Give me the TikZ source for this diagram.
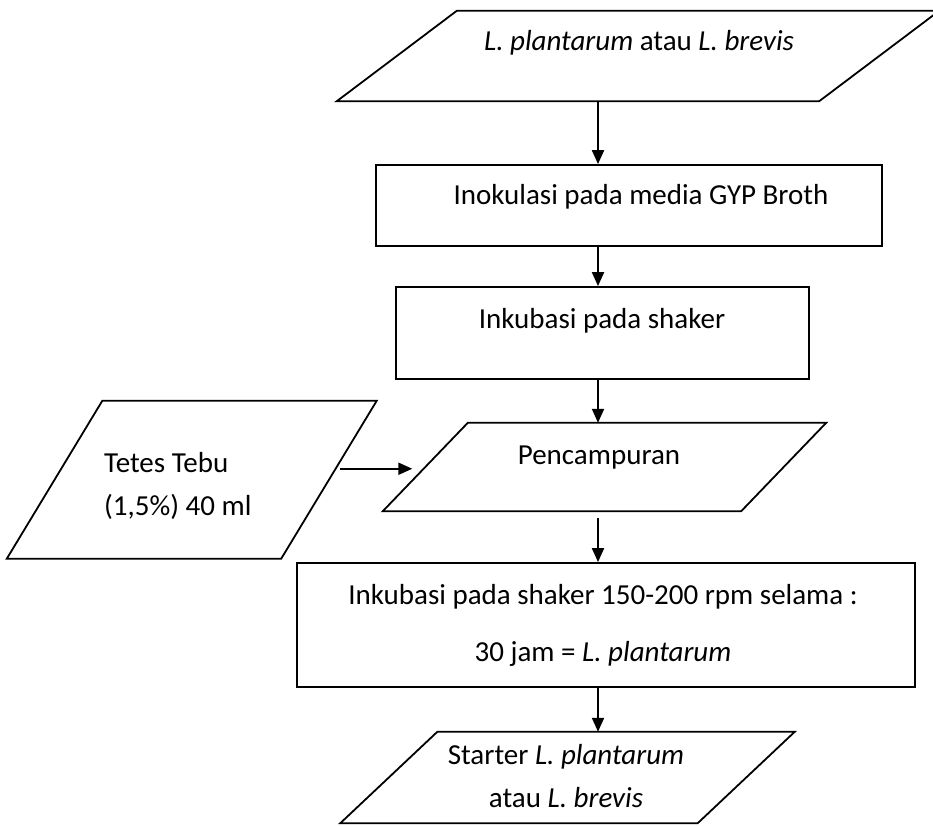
\documentclass[tikz,border=0pt]{standalone}
\usepackage{fontspec}
\setmainfont{Carlito}
\usetikzlibrary{arrows.meta}

\begin{document}
\begin{tikzpicture}[x=1pt, y=-1pt,
    every node/.style={font=\fontsize{29}{43}\selectfont},
    procbox/.style={rectangle, draw, line width=1.8pt, inner sep=0pt},
    iobody/.style={rectangle, inner sep=0pt},
    boxtext/.style={inner sep=0pt, align=center, anchor=base},
    arrow/.style={-{Triangle[length=14pt, width=12pt]}, line width=2pt},
    outline/.style={line width=1.8pt, line join=miter}
  ]
  \useasboundingbox (0,0) rectangle (933,826);
  \coordinate (spine) at (598,0);

  % bahan awal
  \node[iobody, minimum width=482pt, minimum height=90pt] (src) at (638,56) {};
  \draw[outline] ([xshift=-60pt]src.south west) -- ([xshift=-60pt]src.south east)
    -- ([xshift=60pt]src.north east) -- ([xshift=60pt]src.north west) -- cycle;
  \node[boxtext] (srctext) at (639,51) {\textit{L. plantarum} atau \textit{L. brevis}};

  % inokulasi
  \node[procbox, minimum width=506pt, minimum height=81pt] (inok) at (629,205.5) {};
  \node[boxtext] (inoktext) at (641,205) {Inokulasi pada media GYP Broth};
  \draw[arrow] (src.south -| spine) -- (inok.north -| spine);

  % inkubasi
  \node[procbox, minimum width=413pt, minimum height=92pt] (inkub) at (602.5,333) {};
  \node[boxtext] (inkubtext) at (602,328) {Inkubasi pada shaker};
  \draw[arrow] (inok.south -| spine) -- (inkub.north -| spine);

  % tetes tebu
  \node[iobody, minimum width=274pt, minimum height=157.5pt] (tetes) at (191.75,479.75) {};
  \draw[outline] ([xshift=-47.75pt]tetes.south west) -- ([xshift=-47.75pt]tetes.south east)
    -- ([xshift=47.75pt]tetes.north east) -- ([xshift=47.75pt]tetes.north west) -- cycle;
  \node[boxtext, align=left, anchor=base west] (tetestext) at (104,515)
    {Tetes Tebu\\(1,5\%) 40 ml};

  % pencampuran
  \node[iobody, minimum width=358pt, minimum height=88pt] (campur) at (604.5,467) {};
  \draw[outline] ([xshift=-42.5pt]campur.south west) -- ([xshift=-42.5pt]campur.south east)
    -- ([xshift=42.5pt]campur.north east) -- ([xshift=42.5pt]campur.north west) -- cycle;
  \node[boxtext] (campurtext) at (599,464) {Pencampuran};
  \draw[arrow] (inkub.south -| spine) -- (campur.north -| spine);
  \coordinate (feed) at ([shift={(11pt,11pt)}]tetes.east);
  \coordinate (feedtip) at ([xshift=-13pt]campur.west);
  \draw[arrow] (feed) -- (feedtip |- feed);

  % inkubasi lanjut
  \node[procbox, minimum width=618pt, minimum height=124pt] (inkub2) at (606,625) {};
  \node[boxtext] (inkub2text) at (603,661)
    {Inkubasi pada shaker 150-200 rpm selama :\\[14pt]30 jam = \textit{L. plantarum}};
  \draw[arrow] ([yshift=-7pt]campur.south -| spine) -- (inkub2.north -| spine);

  % starter
  \node[iobody, minimum width=357pt, minimum height=91pt] (starter) at (567.5,777.5) {};
  \draw[outline] ([xshift=-48.5pt]starter.south west) -- ([xshift=-48.5pt]starter.south east)
    -- ([xshift=48.5pt]starter.north east) -- ([xshift=48.5pt]starter.north west) -- cycle;
  \node[boxtext] (startertext) at (566,807)
    {Starter \textit{L. plantarum}\\atau \textit{L. brevis}};
  \draw[arrow] (inkub2.south -| spine) -- (starter.north -| spine);
\end{tikzpicture}
\end{document}
